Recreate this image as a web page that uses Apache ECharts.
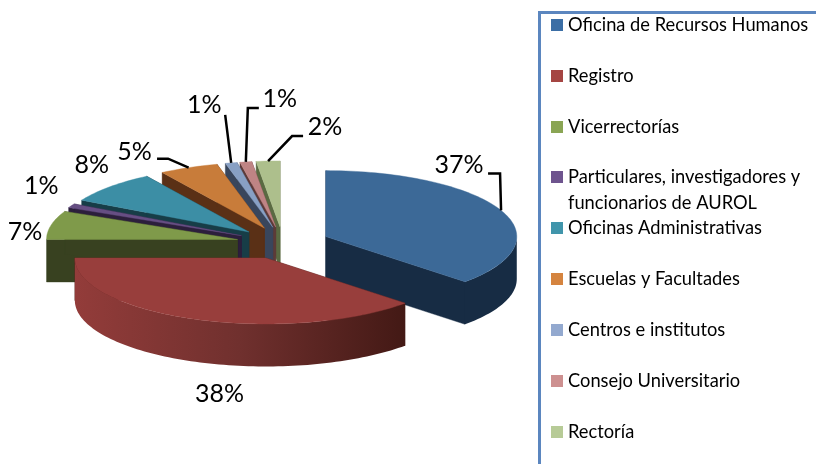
<!DOCTYPE html>
<html>
<head>
<meta charset="utf-8">
<style>html,body{margin:0;padding:0;background:#fff}#c{width:816px;height:464px}</style>
<script src="https://cdn.jsdelivr.net/npm/echarts@6/dist/echarts.min.js"></script>
</head>
<body>
<div id="c"></div>
<script>
// ---- data ----
const categories = [
  'Oficina de Recursos Humanos', 'Registro', 'Vicerrectorías',
  'Particulares, investigadores y\nfuncionarios de AUROL', 'Oficinas Administrativas',
  'Escuelas y Facultades', 'Centros e institutos', 'Consejo Universitario', 'Rectoría'
];
const values = [37, 38, 7, 1, 8, 5, 1, 1, 2];
const valueLabels = ['37%', '38%', '7%', '1%', '8%', '5%', '1%', '1%', '2%'];

// ---- styles ----
const topColors = ['#3c6997', '#983e3c', '#7f9a4a', '#664e83', '#3c8ea5', '#c87c3a', '#88a0c4', '#bf8484', '#adbf8c'];
const legendColors = ['#3b6ea5', '#a54542', '#8aa554', '#6e548e', '#4095ab', '#d5843f', '#93a9cf', '#cd9090', '#b7cb97'];
const wallColors = ['#172c44', '#4a1b17', '#384120', '#2c1f3c', '#173d47', '#5a3016', '#39465c', '#5d3a38', '#5a6a42'];
const outerWallStops = {1: ['#933c3a', '#70302e', '#431915']};
const paintOrder = [8, 7, 6, 5, 4, 3, 2, 0, 1];
// label placement relative to each slice's rim point at mid-angle
const labelOffsets = [[-42, -45], [24, 75], [-26, 7], [-30, -20], [-18, -22], [-54, -16], [-27, -58], [34, -63], [57, -34]];
const leaderKnees = [
  [[-1, -37], [-13, -37]], null, null, null, null,
  [[-20.6, -9], [-31.6, -9]], [[-6, -48]], [[2, -54], [13, -54]], [[24, -25], [35, -25]]
];

// ---- pie geometry ----
const pie = {cx: 283, cy: 243, rx: 191, ry: 66, depth: 42.5, explode: 0.244};
const total = values.reduce(function (a, b) { return a + b; }, 0);
const RAD = Math.PI / 180;

function startAngle(i) {
  let s = 0;
  for (let k = 0; k < i; k++) s += values[k];
  return s / total * 360;
}
function rim(o, a) {
  return [o[0] + pie.rx * Math.sin(a * RAD), o[1] - pie.ry * Math.cos(a * RAD)];
}
function arcPoints(o, a0, a1) {
  const pts = [];
  const n = Math.max(2, Math.ceil((a1 - a0) / 1.5));
  for (let k = 0; k <= n; k++) pts.push(rim(o, a0 + (a1 - a0) * k / n));
  return pts;
}
function down(p) { return [p[0], p[1] + pie.depth]; }
function poly(points, fill) {
  return {type: 'polygon', shape: {points: points}, style: {fill: fill, stroke: fill, lineWidth: 0.4}};
}

function renderSlice(i) {
  return function (params, api) {
    const value = api.value(0);
    const a0 = startAngle(i), a1 = a0 + value / total * 360, mid = (a0 + a1) / 2;
    const off = rim([0, 0], mid);
    const o = [pie.cx + pie.explode * off[0], pie.cy + pie.explode * off[1]];
    const p0 = rim(o, a0), p1 = rim(o, a1);
    const wall = wallColors[i];
    const children = [
      poly([o, p0, down(p0), down(o)], wall),
      poly([o, p1, down(p1), down(o)], wall)
    ];
    const w0 = Math.max(a0, 90), w1 = Math.min(a1, 270);
    if (w1 > w0) {
      const arc = arcPoints(o, w0, w1);
      const stops = outerWallStops[i];
      const fill = stops
        ? new echarts.graphic.LinearGradient(0, 0, 1, 0, stops.map(function (c, k) {
            return {offset: k / (stops.length - 1), color: c};
          }))
        : wall;
      children.push({type: 'polygon', shape: {points: arc.concat(arc.slice().reverse().map(down))}, style: {fill: fill}});
    }
    children.push(poly([o].concat(arcPoints(o, a0, a1)), topColors[i]));

    const tip = rim(o, mid);
    const knees = leaderKnees[i];
    if (knees) {
      children.push({
        type: 'polyline',
        shape: {points: [tip].concat(knees.map(function (k) { return [tip[0] + k[0], tip[1] + k[1]]; }))},
        style: {stroke: '#000', lineWidth: 2.5, fill: null}
      });
    }
    children.push({
      type: 'text',
      style: {
        x: tip[0] + labelOffsets[i][0], y: tip[1] + labelOffsets[i][1],
        text: valueLabels[i], fill: '#000', align: 'center', verticalAlign: 'middle',
        font: '25px Lato'
      }
    });
    return {type: 'group', children: children};
  };
}

const series = categories.map(function (name, i) {
  return {
    type: 'custom', name: name, coordinateSystem: 'none',
    data: [[values[i]]], z: 2 + paintOrder.indexOf(i),
    itemStyle: {color: topColors[i]},
    renderItem: renderSlice(i), silent: true
  };
});

function legendBlock(from, to, top, firstLineOnMarker) {
  const data = [];
  for (let i = from; i < to; i++) data.push({name: categories[i], itemStyle: {color: legendColors[i]}});
  return {
    orient: 'vertical', left: 551, top: top, padding: 0, itemGap: 25,
    itemWidth: 12, itemHeight: 12, icon: 'rect', selectedMode: false, data: data,
    // a blank first line keeps the marker level with the first line of a wrapped name
    formatter: firstLineOnMarker ? function (n) { return '\n' + n; } : '{name}',
    textStyle: {fontFamily: 'Lato', fontSize: 18.3, color: '#000', lineHeight: 26}
  };
}

const chart = echarts.init(document.getElementById('c'), null, {renderer: 'canvas'});
chart.setOption({
  animation: false,
  backgroundColor: '#fff',
  legend: [legendBlock(0, 3, 12), legendBlock(3, 4, 138, true), legendBlock(4, 9, 215)],
  graphic: [{
    type: 'rect', z: 0, silent: true,
    shape: {x: 539.5, y: 12.5, width: 400, height: 600},
    style: {fill: 'none', stroke: '#5b86bf', lineWidth: 3}
  }],
  series: series
});
</script>
</body>
</html>
